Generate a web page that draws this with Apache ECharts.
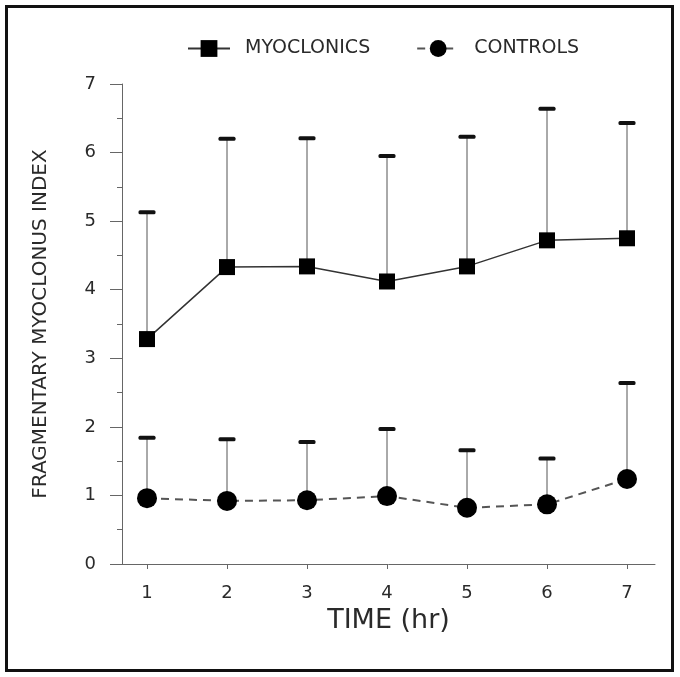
<!DOCTYPE html>
<html>
<head>
<meta charset="utf-8">
<script src="https://cdn.jsdelivr.net/npm/echarts@6/dist/echarts.min.js"></script>
<style>
html,body{margin:0;padding:0;background:#fff;}
#chart{width:680px;height:677px;}
</style>
</head>
<body>
<div id="chart"></div>
<script>
const hours = [1, 2, 3, 4, 5, 6, 7];
const myoMean  = [3.28, 4.33, 4.34, 4.12, 4.34, 4.72, 4.75];
const myoUpper = [5.13, 6.20, 6.21, 5.95, 6.23, 6.64, 6.43];
const ctlMean  = [0.96, 0.92, 0.93, 0.99, 0.82, 0.87, 1.24];
const ctlUpper = [1.84, 1.82, 1.78, 1.97, 1.66, 1.54, 2.64];
const xTickValues = [1, 2, 3, 4, 5, 6, 7];
const seriesNames = ['MYOCLONICS', 'CONTROLS'];

const FONT = 'DejaVu Sans';
const chart = echarts.init(document.getElementById('chart'), null, {renderer: 'canvas'});

function errData(mean, upper) {
  return hours.map((h, i) => [h, mean[i], upper[i]]);
}
function renderErr(params, api) {
  const x = api.value(0), m = api.value(1), u = api.value(2);
  const p0 = api.coord([x, m]);
  const p1 = api.coord([x, u]);
  return {
    type: 'group',
    children: [
      {type: 'line', shape: {x1: p0[0], y1: p0[1], x2: p1[0], y2: p1[1]},
       style: {stroke: '#555', lineWidth: 1}},
      {type: 'rect', shape: {x: p1[0] - 8.5, y: p1[1] - 2, width: 17, height: 4, r: 1.5},
       style: {fill: '#111'}}
    ]
  };
}

const option = {
  backgroundColor: '#fff',
  animation: false,
  textStyle: {fontFamily: FONT},
  graphic: [{
    type: 'rect', silent: true,
    shape: {x: 6.5, y: 6.5, width: 666, height: 664},
    style: {fill: 'none', stroke: '#111', lineWidth: 3}
  }],
  legend: {
    data: seriesNames,
    top: 34,
    left: 182,
    itemWidth: 42,
    itemHeight: 21,
    itemGap: 46,
    textStyle: {fontFamily: FONT, fontSize: 19, color: '#2a2a2a', padding: [0, 0, 0, 10]}
  },
  grid: {left: 122, right: 25, top: 84, bottom: 113},
  xAxis: {
    type: 'value',
    min: 0.6875,
    max: 7.35,
    name: 'TIME (hr)',
    nameLocation: 'middle',
    nameGap: 43,
    nameTextStyle: {fontFamily: FONT, fontSize: 27, color: '#2a2a2a'},
    axisLine: {show: true, lineStyle: {color: '#666', width: 1}},
    axisTick: {show: true, customValues: xTickValues, length: 5, lineStyle: {color: '#666'}},
    axisLabel: {customValues: xTickValues, margin: 20, fontFamily: FONT, fontSize: 18, color: '#2a2a2a'},
    splitLine: {show: false}
  },
  yAxis: {
    type: 'value',
    min: 0,
    max: 7,
    interval: 1,
    name: 'FRAGMENTARY MYOCLONUS INDEX',
    nameLocation: 'middle',
    nameGap: 71,
    nameTextStyle: {fontFamily: FONT, fontSize: 20, color: '#2a2a2a'},
    axisLine: {show: true, lineStyle: {color: '#666', width: 1}},
    axisTick: {show: true, length: 12, lineStyle: {color: '#666'}},
    minorTick: {show: true, splitNumber: 2, length: 5, lineStyle: {color: '#666'}},
    axisLabel: {margin: 26, fontFamily: FONT, fontSize: 18, color: '#2a2a2a'},
    splitLine: {show: false}
  },
  series: [
    {
      type: 'custom', name: 'myoErr', renderItem: renderErr,
      data: errData(myoMean, myoUpper), z: 1, silent: true
    },
    {
      type: 'custom', name: 'ctlErr', renderItem: renderErr,
      data: errData(ctlMean, ctlUpper), z: 1, silent: true
    },
    {
      type: 'line', name: seriesNames[0],
      data: hours.map((h, i) => [h, myoMean[i]]),
      symbol: 'rect', symbolSize: 16,
      itemStyle: {color: '#000'},
      lineStyle: {color: '#333', width: 1.5, type: 'solid'},
      z: 3
    },
    {
      type: 'line', name: seriesNames[1],
      data: hours.map((h, i) => [h, ctlMean[i]]),
      symbol: 'circle', symbolSize: 20,
      itemStyle: {color: '#000'},
      lineStyle: {color: '#555', width: 2, type: [8, 6]},
      z: 3
    }
  ]
};
chart.setOption(option);
</script>
</body>
</html>
